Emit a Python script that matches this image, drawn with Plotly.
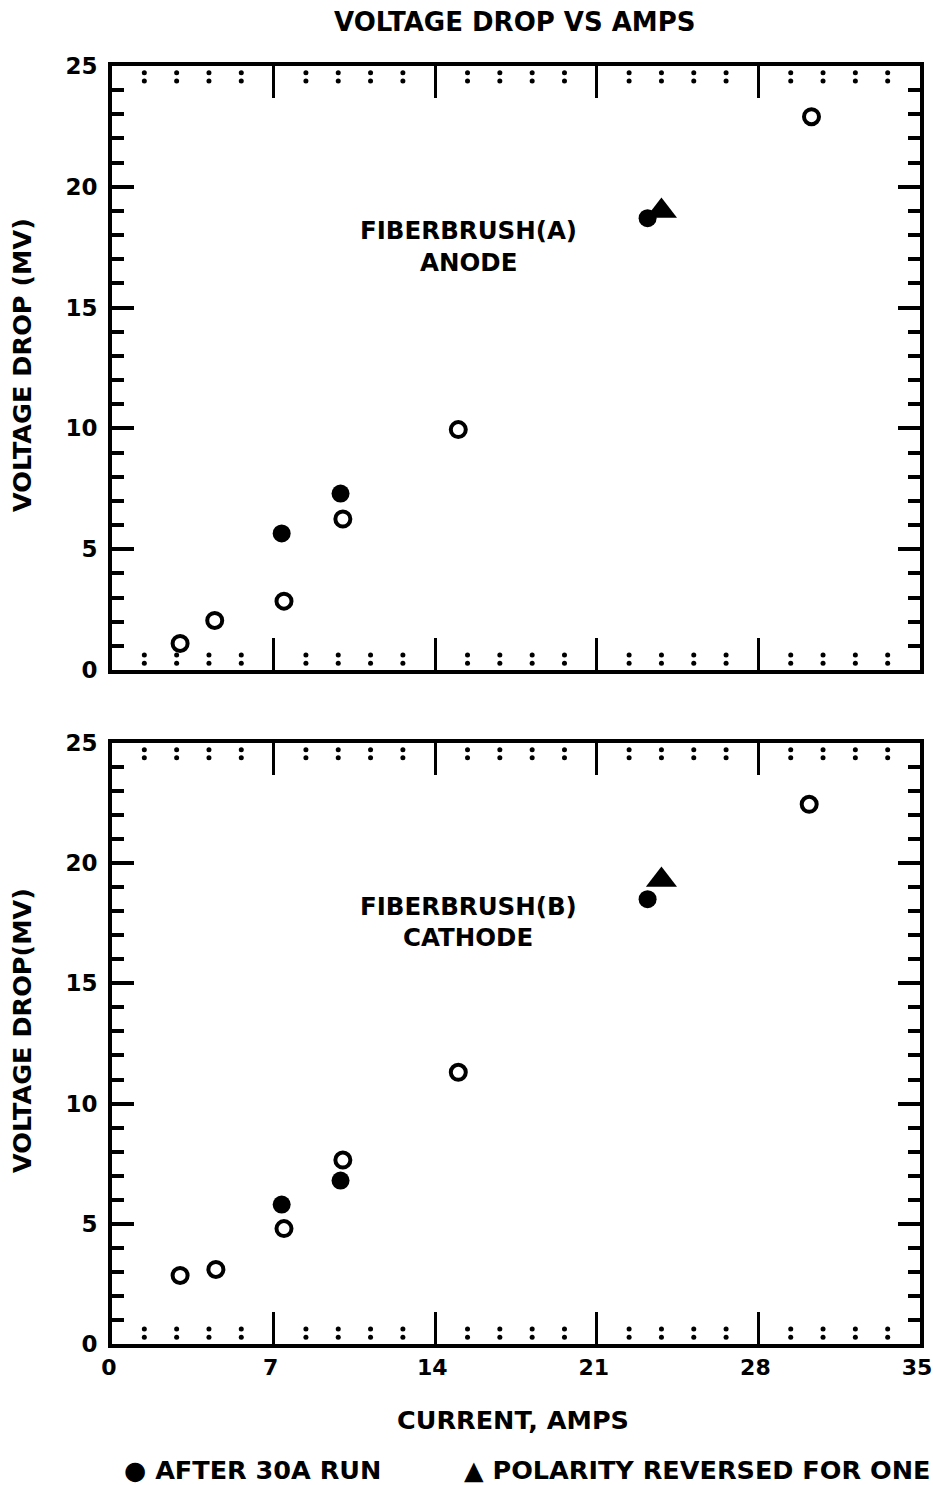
import plotly.graph_objects as go

# ---- data ----
anode_open_x = [2.95, 4.45, 7.45, 10.0, 15.0, 30.3]
anode_open_y = [1.1, 2.05, 2.85, 6.25, 9.95, 22.9]
anode_fill_x = [7.35, 9.9, 23.2]
anode_fill_y = [5.65, 7.3, 18.7]
anode_tri_x = [23.8]
anode_tri_y = [19.0]

cathode_open_x = [2.95, 4.5, 7.45, 10.0, 15.0, 30.2]
cathode_open_y = [2.85, 3.1, 4.8, 7.65, 11.3, 22.45]
cathode_fill_x = [7.35, 9.9, 23.2]
cathode_fill_y = [5.8, 6.8, 18.5]
cathode_tri_x = [23.8]
cathode_tri_y = [19.3]

x_major_ticks = [0, 7, 14, 21, 28, 35]
x_minor_ticks = [round(i * 1.4, 2) for i in range(1, 25) if i % 5 != 0]
y_range = [0, 25]
x_range = [0, 35]

FONT = "DejaVu Sans"
BLACK = "black"

fig = go.Figure()

def add_panel(xa, ya, ox, oy, fx, fy, tx, ty):
    fig.add_trace(go.Scatter(x=ox, y=oy, mode="markers", xaxis=xa, yaxis=ya,
                             marker=dict(symbol="circle-open", size=15, color=BLACK,
                                         line=dict(width=4, color=BLACK)),
                             showlegend=False, hoverinfo="skip"))
    fig.add_trace(go.Scatter(x=fx, y=fy, mode="markers", xaxis=xa, yaxis=ya,
                             marker=dict(symbol="circle", size=18, color=BLACK),
                             showlegend=False, hoverinfo="skip"))
    fig.add_trace(go.Scatter(x=tx, y=ty, mode="markers", xaxis=xa, yaxis=ya,
                             marker=dict(symbol="triangle-up", size=27, color=BLACK),
                             showlegend=False, hoverinfo="skip"))
    # dotted minor x ticks (two dots each, at bottom and top edges)
    dx, dy = [], []
    for v in x_minor_ticks:
        for yy in (0.28, 0.62, y_range[1] - 0.28, y_range[1] - 0.62):
            dx.append(v)
            dy.append(yy)
    fig.add_trace(go.Scatter(x=dx, y=dy, mode="markers", xaxis=xa, yaxis=ya,
                             marker=dict(symbol="circle", size=5, color=BLACK),
                             showlegend=False, hoverinfo="skip"))

add_panel("x", "y", anode_open_x, anode_open_y, anode_fill_x, anode_fill_y,
          anode_tri_x, anode_tri_y)
add_panel("x2", "y2", cathode_open_x, cathode_open_y, cathode_fill_x, cathode_fill_y,
          cathode_tri_x, cathode_tri_y)

tick_font = dict(family=FONT, size=23, color=BLACK, weight="bold")
xtick_font = dict(family=FONT, size=22, color=BLACK, weight="bold")

def xaxis_cfg(show_labels, anchor):
    return dict(range=x_range, tickmode="array", tickvals=x_major_ticks,
                ticktext=[str(v) for v in x_major_ticks],
                ticks="inside", ticklen=32, tickwidth=3, tickcolor=BLACK,
                showline=True, linewidth=4, linecolor=BLACK, mirror="ticks",
                showgrid=False, zeroline=False, showticklabels=show_labels,
                tickfont=xtick_font, ticklabelstandoff=1, ticklabelshift=-3,
                anchor=anchor, ticklabeloverflow="allow",
                automargin=False, domain=[0, 1])

def yaxis_cfg(domain, anchor):
    return dict(range=y_range, dtick=5, tick0=0, ticks="inside", ticklen=22,
                tickwidth=4, tickcolor=BLACK,
                minor=dict(dtick=1, ticks="inside", ticklen=12, tickwidth=4,
                           tickcolor=BLACK),
                showline=True, linewidth=4, linecolor=BLACK, mirror="ticks",
                showgrid=False, zeroline=False, tickfont=tick_font,
                ticklabelstandoff=6, domain=domain, anchor=anchor,
                ticklabeloverflow="allow",
                automargin=False)

fig.update_layout(
    width=933, height=1485,
    margin=dict(l=112, r=13, t=66, b=141),
    paper_bgcolor="white", plot_bgcolor="white",
    xaxis=xaxis_cfg(False, "y"),
    yaxis=yaxis_cfg([0.5274, 1.0], "x"),
    xaxis2=xaxis_cfg(True, "y2"),
    yaxis2=yaxis_cfg([0.0, 0.4703], "x2"),
)

ann_font = dict(family=FONT, size=24.5, color=BLACK, weight="bold")
big_font = dict(family=FONT, size=25.5, color=BLACK, weight="bold")
annotations = [
    dict(text="VOLTAGE DROP VS AMPS", xref="paper", yref="paper", x=0.499, y=1.0344,
         yanchor="middle", showarrow=False,
         font=dict(family=FONT, size=26, color=BLACK, weight="bold")),
    dict(text="FIBERBRUSH(A)", xref="x", yref="y", x=15.44, y=18.2, showarrow=False,
         yanchor="middle", font=ann_font),
    dict(text="ANODE", xref="x", yref="y", x=15.44, y=16.85, showarrow=False,
         yanchor="middle", font=ann_font),
    dict(text="FIBERBRUSH(B)", xref="x2", yref="y2", x=15.44, y=18.2, showarrow=False,
         yanchor="middle", font=ann_font),
    dict(text="CATHODE", xref="x2", yref="y2", x=15.44, y=16.9, showarrow=False,
         yanchor="middle", font=ann_font),
    dict(text="VOLTAGE DROP (MV)", xref="paper", yref="paper", x=-0.1114, y=0.766,
         textangle=-90, showarrow=False, xanchor="center", yanchor="middle",
         font=big_font),
    dict(text="VOLTAGE DROP(MV)", xref="paper", yref="paper", x=-0.1114, y=0.2457,
         textangle=-90, showarrow=False, xanchor="center", yanchor="middle",
         font=big_font),
    dict(text="CURRENT, AMPS", xref="paper", yref="paper", x=0.496, y=-0.0595,
         yanchor="middle", showarrow=False, font=big_font),
    dict(text="● AFTER 30A RUN", xref="paper", yref="paper", x=0.0124, y=-0.0986,
         xanchor="left", yanchor="middle", showarrow=False, font=big_font),
    dict(text="▲ POLARITY REVERSED FOR ONE", xref="paper", yref="paper", x=0.4332,
         y=-0.0986, xanchor="left", yanchor="middle", showarrow=False, font=big_font),
]
fig.update_layout(annotations=annotations)

# remove the default 8px page margin so the figure sits at the window's corner
fig.write_html("out.html", config={"displayModeBar": False},
               post_script="document.body.style.margin='0';")
